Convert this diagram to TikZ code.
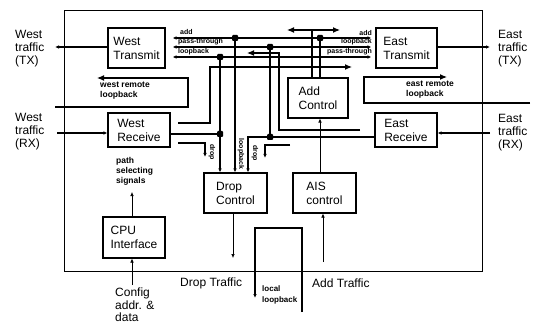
\documentclass[tikz,border=0pt]{standalone}
\usepackage{fontspec}
\setmainfont{Liberation Sans}
\usetikzlibrary{arrows.meta}

\begin{document}
\begin{tikzpicture}[x=1pt,y=-1pt,
  blk/.style={draw,line width=1.1pt,align=left,inner sep=2pt,
    font=\fontsize{12}{14}\selectfont},
  side/.style={anchor=west,align=left,inner sep=0pt,font=\fontsize{12}{13}\selectfont},
  tag/.style={inner sep=0pt,font=\fontsize{7}{8}\selectfont\bfseries},
  note/.style={anchor=west,align=left,inner sep=0pt,font=\fontsize{8.5}{10}\selectfont\bfseries},
  bus/.style={line width=1.1pt},
  fine/.style={line width=0.6pt},
  arr/.style={-{Latex[length=4pt,width=3.5pt]}},
  bigarr/.style={-{Latex[length=7pt,width=6pt]}},
  jn/.style={fill,rectangle,rounded corners=1pt,minimum size=6pt,inner sep=0pt}]
  \useasboundingbox (0,0) rectangle (533,334);
  \draw[line width=0.8pt] (64,10) rectangle (482,271);

  % blocks
  \node[blk,minimum width=57pt,minimum height=40pt] (wtx) at (136.5,48) {West\\Transmit};
  \node[blk,minimum width=62pt,minimum height=34pt] (wrx) at (139,130) {West\\Receive};
  \node[blk,minimum width=61pt,minimum height=40pt] (etx) at (406.5,48) {East\\Transmit};
  \node[blk,minimum width=62pt,minimum height=34pt] (erx) at (406,130) {East\\Receive};
  \node[blk,minimum width=60pt,minimum height=40pt] (addc) at (318,98) {Add\\Control};
  \node[blk,minimum width=63pt,minimum height=40pt] (dropc) at (235.5,193) {Drop\\Control};
  \node[blk,minimum width=63pt,minimum height=40pt] (ais) at (324.5,193) {AIS\\control};
  \node[blk,minimum width=62pt,minimum height=41pt] (cpu) at (134,237.5) {CPU\\Interface};

  % outside traffic
  \node[side] (wtxl) at (15,48.5) {West\\traffic\\(TX)};
  \node[side] (wrxl) at (15,132) {West\\traffic\\(RX)};
  \node[side] (etxl) at (498,48.5) {East\\traffic\\(TX)};
  \node[side] (erxl) at (498,133) {East\\traffic\\(RX)};
  \coordinate (wtxo) at (55,47);
  \coordinate (wrxi) at (57,133);
  \coordinate (etxo) at (490,47);
  \coordinate (erxi) at (490,133);
  \draw[bus,arr] (wtx.west |- wtxo) -- (wtxo);
  \draw[bus,arr] (wrxi) -- (wrxi -| wrx.west);
  \draw[bus,arr] (etx.east |- etxo) -- (etxo);
  \draw[bus,arr] (erxi) -- (erxi -| erx.east);

  % remote loopbacks
  \coordinate (wrl) at (55,107);
  \coordinate (wrlend) at (97,78);
  \draw[bus,bigarr] (wrl) -| (188,78) -- (wrlend);
  \node[note] (wrlt) at (100,91) {west remote\\loopback};
  \coordinate (erl) at (530,103);
  \coordinate (erlend) at (447,77);
  \draw[bus,bigarr] (erl) -| (364,77) -- (erlend);
  \node[note] (erlt) at (406,90) {east remote\\loopback};

  % junctions
  \node[jn] (j1) at (235,38) {};
  \node[jn] (j2) at (320,38) {};
  \node[jn] (j3) at (270,47) {};
  \node[jn] (j4) at (220,57) {};
  \node[jn] (j5) at (220,134) {};
  \node[jn] (j6) at (270,137) {};

  % transmit buses
  \foreach \y in {38,47,57}
    \draw[bus,{Latex[length=4pt,width=3.5pt]}-{Latex[length=4pt,width=3.5pt]},
      shorten <=7pt,shorten >=4pt] (wtx.east |- 0,\y) -- (etx.west |- 0,\y);
  \node[tag,anchor=west] (wadd) at (180,32) {add};
  \node[tag,anchor=west] (wpass) at (178,42) {pass-through};
  \node[tag,anchor=west] (wloop) at (178,52) {loopback};
  \node[tag,anchor=east] (eadd) at (372,33) {add};
  \node[tag,anchor=east] (eloop) at (372,42) {loopback};
  \node[tag,anchor=east] (epass) at (372,52) {pass-through};

  % add control
  \coordinate (dl) at (287,30);
  \coordinate (dr) at (340,30);
  \coordinate (dm) at (312,30);
  \draw[bus,{Latex[length=7pt,width=6pt]}-{Latex[length=7pt,width=6pt]}] (dl) -- (dr);
  \draw[bus] (dm) -- (addc.north -| dm);
  \draw[bus] (j2.center) -- (addc.north -| j2);

  % west receive outputs
  \coordinate (wrxa) at (178,123);
  \coordinate (erlin) at (352,67);
  \draw[bus,bigarr] (wrxa) -| (210,67) -- (erlin);
  \draw[bus] (wrx.east |- j5) -- (j5.center);
  \coordinate (wdrop) at (178,143);
  \draw[bus,arr] (wdrop) -| (205,157);
  \node[tag,rotate=-90] (wdt) at (212,152) {drop};

  % east receive outputs
  \coordinate (erxa) at (360,130);
  \coordinate (wrlin) at (247,53);
  \draw[bus,bigarr] (erxa) -| (279,53) -- (wrlin);
  \coordinate (k) at (248,0);
  \draw[bus,arr] (erx.west |- j6) -- (j6.center) -| (dropc.north -| k);
  \coordinate (edrop) at (290,145);
  \draw[bus,arr] (edrop) -| (265,158);
  \node[tag,rotate=-90] (edt) at (255,153) {drop};

  % into drop control
  \draw[bus,arr] (j4.center) -- (dropc.north -| j4);
  \draw[bus,arr] (j1.center) -- (dropc.north -| j1);
  \draw[bus] (j3.center) -- (j6.center);
  \node[tag,rotate=-90] (lbt) at (241,154) {loopback};

  % add / drop traffic
  \draw[fine,arr] (ais.north -| j2) -- (addc.south -| j2);
  \coordinate (addin) at (323,262);
  \draw[fine,arr] (addin) -- (ais.south -| addin);
  \node[side] (addt) at (312,283) {Add Traffic};
  \coordinate (dropout) at (233,258);
  \draw[fine,arr] (dropc.south -| dropout) -- (dropout);
  \node[side] (dropt) at (180,283) {Drop Traffic};

  % local loopback
  \coordinate (llin) at (302,312);
  \coordinate (llout) at (255,298);
  \draw[bus,arr] (llin) |- (255,228) -- (llout);
  \node[note,font=\fontsize{8}{11}\selectfont\bfseries] (llt) at (262,295) {local\\loopback};

  % cpu
  \coordinate (cfg) at (132,285);
  \draw[fine,arr] (cfg) -- (cpu.south -| cfg);
  \node[side,font=\fontsize{12}{12.5}\selectfont] (cfgt) at (115,305) {Config\\addr. \&\\data};
  \coordinate (psel) at (132,192);
  \draw[fine,arr] (cpu.north -| psel) -- (psel);
  \node[note] (pselt) at (116,171) {path\\selecting\\signals};
\end{tikzpicture}
\end{document}
